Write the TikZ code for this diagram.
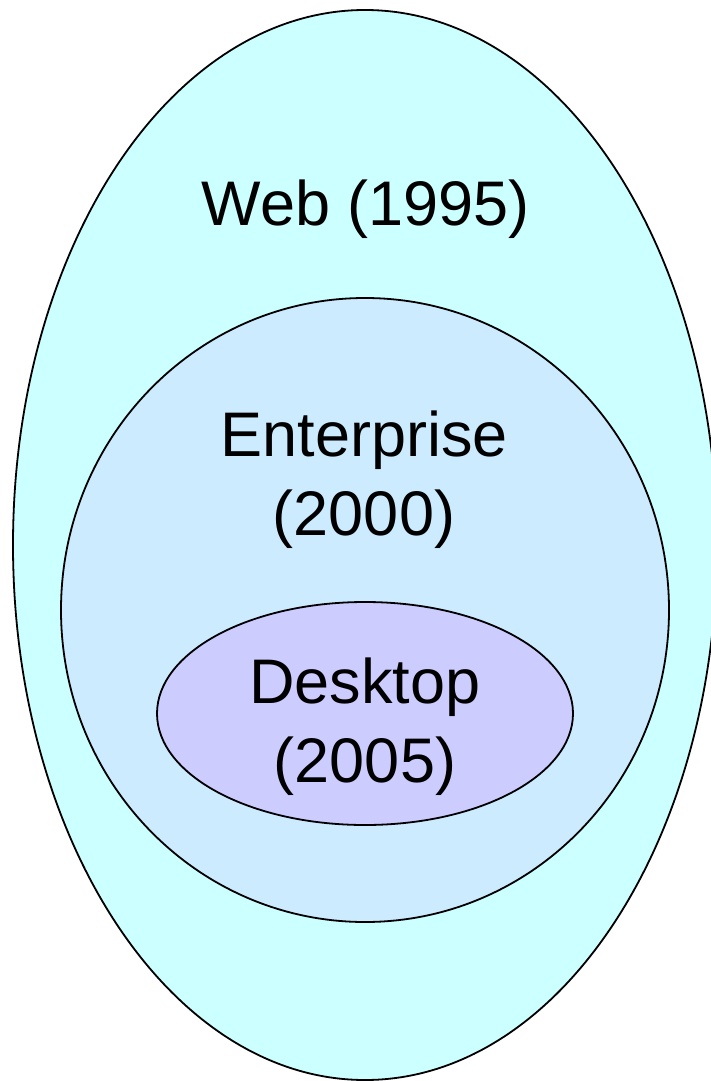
\documentclass[tikz,border=0pt]{standalone}
\usepackage{fontspec}
\setmainfont{Liberation Sans}
\usetikzlibrary{shapes.geometric}
\definecolor{webCol}{HTML}{CCFFFF}
\definecolor{entCol}{HTML}{CCEBFF}
\definecolor{deskCol}{HTML}{CCCCFF}
\newcommand*{\bubble}[6]{% name, x, y, x radius, y radius, fill
    \node (#1) at (#2,#3) [ellipse, draw=black, line width=1.8pt, fill=#6, inner sep=0pt, minimum width=2*#4, minimum height=2*#5] {};
}
\newcommand*{\era}[4]{% name, x, y (baseline of last line), text
    \node (#1) at (#2,#3) [anchor=base, align=center, inner sep=0pt, font=\fontsize{63}{79}\selectfont] {#4};
}

\begin{document}
\begin{tikzpicture}[x=1pt, y=-1pt] {
\clip (0,0) rectangle (711,1081);
\bubble{web}{365}{545}{352}{535}{webCol}
\bubble{enterprise}{365}{610}{304}{312}{entCol}
\bubble{desktop}{365}{713.5}{208}{111.5}{deskCol}
\era{webText}{366}{225}{Web (1995)}
\era{enterpriseText}{364}{535}{Enterprise\\(2000)}
\era{desktopText}{365}{782}{Desktop\\(2005)}
}\end{tikzpicture}
\end{document}
